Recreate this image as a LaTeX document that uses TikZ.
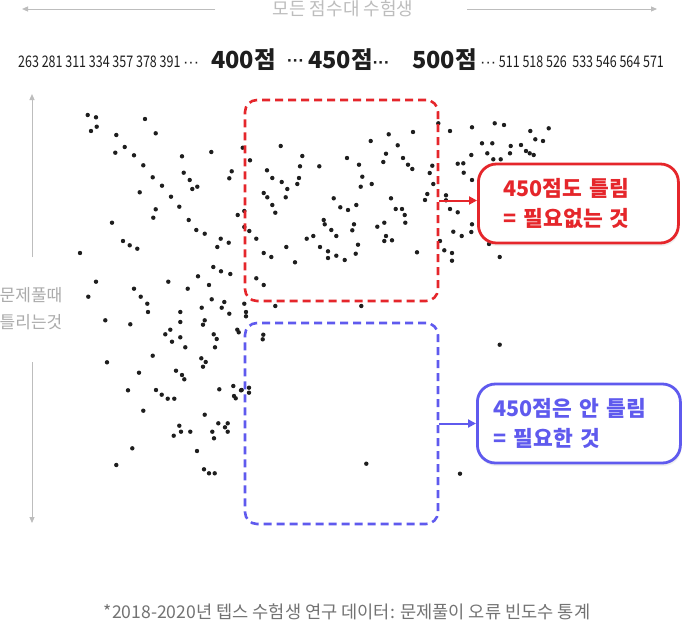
\documentclass[tikz,border=0pt]{standalone}
\usepackage{fontspec}
\setmainfont{Noto Sans CJK KR}
\newfontfamily\narrowfont[FakeStretch=0.78]{Noto Sans CJK KR}
\newfontfamily\dotfont{Liberation Sans}
\usepackage{xcolor}
\usepackage{tikz}
\usetikzlibrary{arrows.meta,shadows,positioning}
\definecolor{ink}{HTML}{1E1E1E}
\definecolor{muted}{HTML}{BDBDBD}
\definecolor{side}{HTML}{ABABAB}
\definecolor{note}{HTML}{737373}
\definecolor{hot}{HTML}{E5262B}
\definecolor{cool}{HTML}{5F5AEE}
\newcommand{\smalldots}{{\dotfont\fontsize{16}{18}\selectfont ···}}
\newcommand{\bigdots}{{\dotfont\bfseries\fontsize{17}{18}\selectfont ···}}
\tikzset{
  dot/.style={circle, fill=ink, inner sep=0pt, minimum size=4.4pt},
  axis/.style={draw=muted, line width=1pt, -{Triangle[length=6pt,width=5pt]}},
  labm/.style={text=side, font=\fontsize{17}{27}\selectfont, align=center},
  lowrow/.style={text=ink, anchor=base west, inner sep=0pt, font=\narrowfont\fontsize{16}{18}\selectfont},
  bigrow/.style={text=ink, anchor=base west, inner sep=0pt, font=\bfseries\fontsize{23.5}{25}\selectfont},
  zone/.style={draw=#1, dash pattern=on 8pt off 5pt, line width=2.6pt, rounded corners=12pt,
    minimum width=193pt, minimum height=201pt, inner sep=0pt},
  callout/.style={draw=#1, fill=white, line width=2.8pt, rounded corners=18pt, minimum height=79pt,
    text=#1, align=left, anchor=west, font=\bfseries\fontsize{21.5}{30}\selectfont,
    drop shadow={opacity=0.12, shadow xshift=1pt, shadow yshift=-3pt}},
  link/.style={draw=#1, line width=2pt, -{Triangle[length=8pt,width=8pt]}}
}

\begin{document}
\begin{tikzpicture}[x=1pt, y=-1pt]
  \fill[white] (0,0) rectangle (690,624);
  \useasboundingbox (0,0) rectangle (690,624);

  % top axis
  \node[labm, text=muted, font=\fontsize{18}{20}\selectfont] (allband) at (343,9) {모든 점수대 수험생};
  \coordinate (topL) at (22,9);
  \coordinate (topR) at (657,9);
  \draw[axis] (215,9) -- (topL);
  \draw[axis] (467,9) -- (topR);

  % score row
  \node[lowrow] (lowscores) at (18,67) {263 281 311 334 357 378 391\,\smalldots};
  \node[bigrow] (s400) at (211,68) {400점};
  \node[bigrow] (gapA) at (287,66) {\bigdots};
  \node[bigrow] (s450) at (308,68) {450점\bigdots};
  \node[bigrow] (s500) at (412,68) {500점};
  \node[lowrow] (highscores) at (480,67) {\smalldots\ 511 518 526\, 533 546 564 571};

  % left axis
  \node[labm] (wrong) at (31,309) {문제풀때\\틀리는것};
  \coordinate (leftT) at (32,94);
  \coordinate (leftB) at (32,523);
  \draw[axis] (32,257) -- (leftT);
  \draw[axis] (32,362) -- (leftB);

  % scatter
  \foreach \x/\y [count=\i] in {
    87.7/115, 96/117.3, 91/131, 96.7/126.7, 145/119, 116.3/135, 155.7/133.3, 124.7/147,
    115.3/152.7, 134/155.3, 182/156.3, 211.3/152, 242.7/147.7, 250/160.3, 143.3/165.3,
    183.7/172.7, 189.7/180, 231.7/171.3, 229.3/178.3, 152.7/177.3, 192.3/189, 197.3/186.7,
    162/185.7, 139.7/192.3, 171/196.7, 179.3/206.7, 155.7/209.3, 153.3/217.7, 112/222.7,
    188.7/220, 237.7/215, 244.3/211, 244.3/227, 249.3/231, 196.3/230, 204.7/233.7,
    220.7/238.7, 217.3/247, 228.7/242.7, 123/241, 129.7/245.3, 137.3/248.7, 80/253,
    213.3/267, 221/271.3, 230.3/274, 198/276.3, 209/285, 96/281.7, 168.3/281.7, 134/288.7,
    187.7/288.7,
    88.3/296.7, 140.7/296.7, 147.3/303.7, 148/312, 211.7/299.3, 224.3/302, 221.7/307.7,
    201.7/307.7, 244.3/303.7, 180.3/312, 229.3/313.7, 246/312, 246/316.3, 105.3/320.3,
    130.3/324.3, 180.3/322, 204.7/320.3, 203/324.7, 170.3/329.7, 165.3/334.3, 237.3/329.7,
    238.7/332.3, 213.7/334.3, 216.7/339, 180.3/337.3, 172/341.7, 185.3/347.3, 215/347.3,
    152.7/355.7, 201.3/358.3, 205.7/362, 203/366.7, 107/362.3, 139/372.7, 176/370.7,
    182/375, 184.3/379.3, 128/390.3, 156/390, 161.7/394.7, 167.7/398.7, 174.3/398.7,
    219.3/389.3, 233.3/386, 234/396, 235.7/398.3, 241/390.3, 249/387.7, 249/392.7,
    143.3/410.7, 204.7/414.7, 179.3/425.7, 218.3/423.3, 227.7/423.3, 225/427.3, 227.7/431.7,
    181/431.7, 190.3/431.7, 173.7/435.7, 212.3/431.7, 214/438.3, 132.3/448.3, 197/451,
    116.3/465, 204/469.3, 209/473.3, 214.7/473.3,
    280.7/146, 302.3/156, 300/166.3, 319.3/166.3, 267/170.3, 272.3/178, 281.7/182, 299/178,
    297.3/184, 287.3/189, 285.7/197.3, 263.7/193, 267.3/197.3, 272.3/205, 275.3/212.7,
    256.3/238.7, 263.7/253, 271.3/257, 256.3/278.3, 263.7/285, 275.3/306, 361.3/306,
    286.3/247, 295/262.3, 306.7/238.7, 313.3/236, 320/247, 328/251.3, 328/258, 336.3/255.7,
    344.7/260, 355.7/253.7, 358/244.7, 336.3/236, 331.3/230, 323.7/220, 324.7/224.3,
    352.3/230.3, 354/224.3, 333.7/198.3, 340.3/207.3, 348/210, 356.3/205, 347/158,
    359/164.7, 362.3/176.7, 360.7/186.7, 371.7/184, 370.7/141, 388.7/134.3, 386/153.7,
    383.3/162, 397.7/145.3, 403/158, 408/164.7, 412.3/169, 413/132, 391/198.3, 395.7/209,
    402/209, 404.7/215, 405.3/222.7, 377.3/226.7, 384.3/222.7, 386/236, 384.3/241,
    392/240.3, 417/252.3, 432.3/165.7, 429.7/173, 433.3/184, 427.3/194, 425/200,
    438.3/123.3, 450/131, 457.7/163.7, 446/195.3, 446/200.3, 450/209, 457.7/212.3,
    453.3/231.7, 440/241, 444.3/250.3, 452/253, 452/260.7,
    472/127.3, 494.7/123.3, 504/125, 530.3/131, 548.7/128.3, 535.3/139.3, 543/141,
    482/143.3, 492.3/143.3, 510.7/146, 521/145, 526/151, 529.7/153.3, 533.7/155,
    487.3/153.3, 510/153.3, 471.3/155, 493.3/159.3, 500.7/159.3, 463.3/163.3, 463.7/172.7,
    472/180, 472/224.3, 471.3/232, 461.7/236, 489/244, 499.7/257,
    263.3/334.7, 262.7/339.3, 241.7/390, 499.7/344.7, 366.3/463.7, 460/473.7}
    \node[dot] (dot\i) at (\x,\y) {};

  % zones and callouts
  \node[zone=hot] (redzone) at (341.5,200.5) {};
  \node[zone=cool] (bluezone) at (341.5,423.5) {};

  \node[callout=hot, inner xsep=25pt, text width=150pt] (redcall) at (477,203.5)
    {450점도 틀림\\= 필요없는 것};
  \node[callout=cool, inner xsep=16pt, text width=171pt] (bluecall) at (476,423.5)
    {450점은 안 틀림\\= 필요한 것};

  \draw[link=hot] (redzone.east) -- (redzone.east -| redcall.west);
  \draw[link=cool] (bluezone.east) -- (bluezone.east -| bluecall.west);

  % source
  \node[text=note, font=\fontsize{17.6}{19}\selectfont] (source) at (347,612)
    {*2018-2020년 텝스 수험생 연구 데이터: 문제풀이 오류 빈도수 통계};
\end{tikzpicture}
\end{document}
